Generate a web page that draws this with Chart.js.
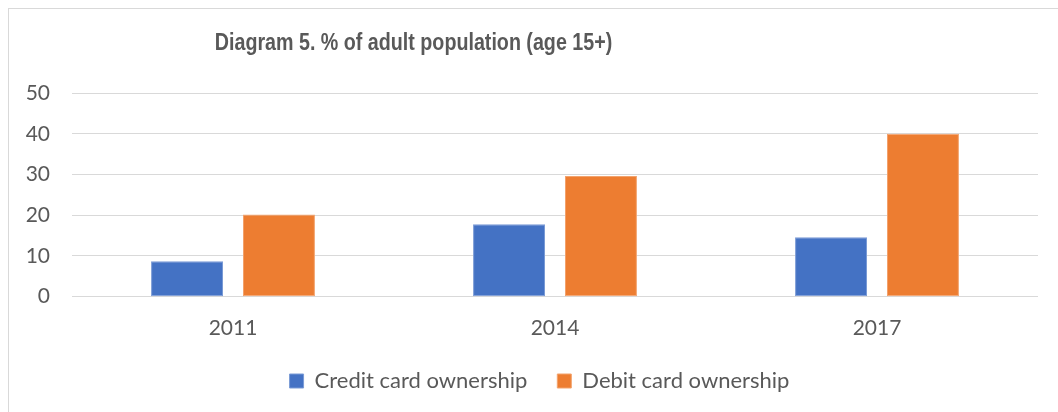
<!DOCTYPE html>
<html>
<head>
<meta charset="utf-8">
<script src="https://cdn.jsdelivr.net/npm/chart.js@4"></script>
<style>
  body { margin: 0; background: #fff; }
  #wrap { position: relative; width: 1058px; height: 412px; overflow: hidden; }
  #frame { position: absolute; left: 8px; top: 8px; width: 1100px; height: 500px;
           border-top: 1px solid #d9d9d9; border-left: 1px solid #d9d9d9; }
  #myChart { position: absolute; left: 0; top: 0; }
</style>
</head>
<body>
<div id="wrap">
  <div id="frame"></div>
  <canvas id="myChart" width="1058" height="412"></canvas>
</div>
<script>
// years on the x axis
const years = ['2011', '2014', '2017'];
// share of adults, %
const creditCard = [8.7, 17.8, 14.6];
const debitCard = [20.2, 29.6, 40.0];
// y axis
const yTicks = [0, 10, 20, 30, 40, 50];

const chartTitle = 'Diagram 5. % of adult population (age 15+)';
const textColor = '#595959';
const bodyFont = 'Lato, "Open Sans", sans-serif';

// title sits left of centre and is condensed, so draw it by hand
const titlePlugin = {
    id: 'leftTitle',
    afterDraw(chart) {
        const ctx = chart.ctx;
        ctx.save();
        ctx.font = 'bold 24px "Liberation Sans", Arial, sans-serif';
        ctx.fillStyle = textColor;
        ctx.textAlign = 'center';
        ctx.textBaseline = 'alphabetic';
        ctx.translate(413.5, 49.5);
        ctx.scale(0.82, 1);
        ctx.fillText(chartTitle, 0, 0);
        ctx.restore();
    }
};

Chart.defaults.font.family = bodyFont;
Chart.defaults.color = textColor;

var myChart = new Chart('myChart', {
    type: 'bar',
    data: {
        labels: years,
        datasets: [
            {
                label: 'Credit card ownership',
                data: creditCard,
                backgroundColor: '#4472C4',
                borderColor: '#7b9bd6',
                borderWidth: 1,
                borderSkipped: false
            },
            {
                label: 'Debit card ownership',
                data: debitCard,
                backgroundColor: '#ED7D31',
                borderColor: '#f3a36d',
                borderWidth: 1,
                borderSkipped: false
            }
        ]
    },
    options: {
        responsive: false,
        animation: false,
        categoryPercentage: 0.571,
        barPercentage: 0.783,
        layout: {
            padding: { left: 21, right: 0, top: 93, bottom: 10 }
        },
        scales: {
            x: {
                grid: { display: false },
                border: { display: false },
                ticks: { font: { size: 21 }, padding: 11 },
                afterFit(scale) { scale.height = 43.3; }
            },
            y: {
                min: 0,
                max: 50,
                afterBuildTicks(scale) { scale.ticks = yTicks.map(v => ({ value: v })); },
                grid: { color: '#d9d9d9', lineWidth: 1, drawTicks: false },
                border: { display: false },
                ticks: { font: { size: 21 }, padding: 22 },
                afterFit(scale) { scale.width = 51; }
            },
            // empty spacer on the right so the legend centres where it should
            yRight: {
                type: 'linear',
                position: 'right',
                grid: { display: false },
                border: { display: false },
                ticks: { display: false },
                afterFit(scale) { scale.width = 20; }
            }
        },
        plugins: {
            title: { display: false },
            tooltip: { enabled: false },
            legend: {
                position: 'bottom',
                labels: {
                    boxWidth: 14,
                    boxHeight: 14,
                    padding: 30,
                    font: { size: 22 },
                    color: textColor
                }
            }
        }
    },
    plugins: [titlePlugin]
});
</script>
</body>
</html>
